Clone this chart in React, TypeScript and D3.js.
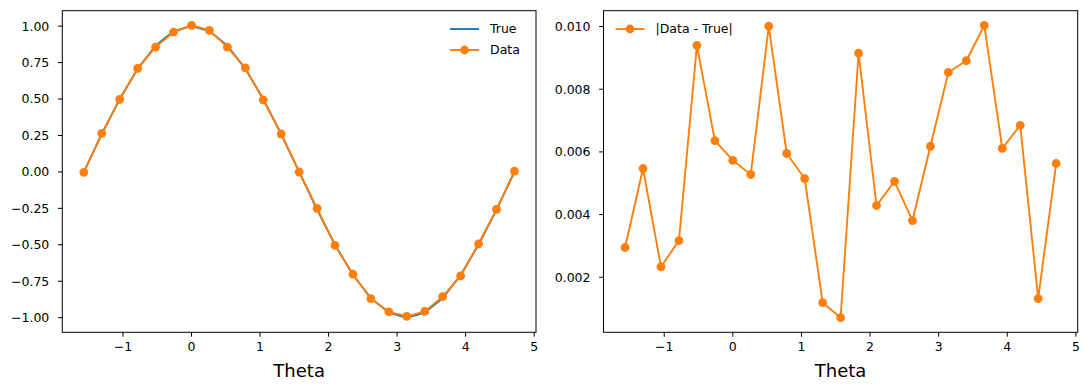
import * as d3 from 'd3';

// theta samples, -pi/2 .. 3pi/2 in pi/12 steps
const theta = [
  -1.5708, -1.309, -1.0472, -0.7854, -0.5236, -0.2618, 0, 0.2618, 0.5236, 0.7854, 1.0472, 1.309,
  1.5708, 1.8326, 2.0944, 2.3562, 2.618, 2.8798, 3.1416, 3.4034, 3.6652, 3.927, 4.1888, 4.4506, 4.7124,
];
const trueVals = [
  0, 0.2588, 0.5, 0.7071, 0.866, 0.9659, 1, 0.9659, 0.866, 0.7071, 0.5, 0.2588, 0, -0.2588, -0.5,
  -0.7071, -0.866, -0.9659, -1, -0.9659, -0.866, -0.7071, -0.5, -0.2588, 0,
];
const dataVals = [
  -0.003, 0.2643, 0.4977, 0.7103, 0.8566, 0.9595, 1.0057, 0.9712, 0.856, 0.7131, 0.4949, 0.26,
  -0.0007, -0.2497, -0.5043, -0.7021, -0.8698, -0.9597, -0.9915, -0.957, -0.856, -0.7132, -0.4932,
  -0.2575, 0.0056,
];
const absErr = [
  0.00295, 0.00547, 0.00233, 0.00317, 0.0094, 0.00636, 0.00573, 0.00528, 0.01001, 0.00595, 0.00515,
  0.00119, 0.00071, 0.00915, 0.00429, 0.00506, 0.00381, 0.00618, 0.00854, 0.00891, 0.01004, 0.00611,
  0.00685, 0.00132, 0.00563,
];
const xTicks = [-1, 0, 1, 2, 3, 4, 5];
const leftYTicks = [-1, -0.75, -0.5, -0.25, 0, 0.25, 0.5, 0.75, 1];
const rightYTicks = [0.002, 0.004, 0.006, 0.008, 0.01];

const BLUE = '#1f77b4';
const ORANGE = '#ff7f0e';
const FONT = 'DejaVu Sans, sans-serif';
const TOP = 10.7;
const BOTTOM = 332.3;
const R = 4.4;

const pad = (ext: [number, number]): [number, number] => {
  const m = (ext[1] - ext[0]) * 0.05;
  return [ext[0] - m, ext[1] + m];
};

const minus = (s: string) => s.replace('-', '\u2212');

type Series = { values: number[]; color: string; markers: boolean };

function Panel({
  x0,
  x1,
  yTicks,
  yFmt,
  yDomain,
  series,
  legend,
}: {
  x0: number;
  x1: number;
  yTicks: number[];
  yFmt: (v: number) => string;
  yDomain: [number, number];
  series: Series[];
  legend: { label: string; color: string; markers: boolean }[];
}) {
  const x = d3.scaleLinear().domain(pad(d3.extent(theta) as [number, number])).range([x0, x1]);
  const y = d3.scaleLinear().domain(yDomain).range([BOTTOM, TOP]);
  const line = d3
    .line<number>()
    .x((_, i) => x(theta[i]))
    .y((d) => y(d));
  const upperRight = legend.length > 1;
  const lx = upperRight ? x1 - 86 : x0 + 12;
  return (
    <g>
      {series.map((s, k) => (
        <g key={k}>
          <path d={line(s.values) ?? ''} fill="none" stroke={s.color} strokeWidth={1.9} />
          {s.markers &&
            s.values.map((v, i) => <circle key={i} cx={x(theta[i])} cy={y(v)} r={R} fill={s.color} />)}
        </g>
      ))}
      <rect x={x0} y={TOP} width={x1 - x0} height={BOTTOM - TOP} fill="none" stroke="#000" strokeWidth={1} />
      {xTicks.map((t) => (
        <g key={t} transform={`translate(${x(t)},${BOTTOM})`}>
          <line y2={4.4} stroke="#000" />
          <text y={19} textAnchor="middle" fontSize={12.5} fontFamily={FONT}>
            {minus(String(t))}
          </text>
        </g>
      ))}
      {yTicks.map((t) => (
        <g key={t} transform={`translate(${x0},${y(t)})`}>
          <line x2={-4.4} stroke="#000" />
          <text x={-13} dy="0.35em" textAnchor="end" fontSize={12.5} fontFamily={FONT}>
            {minus(yFmt(t))}
          </text>
        </g>
      ))}
      <text x={(x0 + x1) / 2} y={377} textAnchor="middle" fontSize={18} fontFamily={FONT}>
        Theta
      </text>
      {legend.map((l, i) => (
        <g key={l.label} transform={`translate(${lx},${29 + i * 21})`}>
          <line x1={0} x2={29} stroke={l.color} strokeWidth={1.9} />
          {l.markers && <circle cx={14.5} r={R} fill={l.color} />}
          <text x={40} dy="0.35em" fontSize={12.5} fontFamily={FONT}>
            {l.label}
          </text>
        </g>
      ))}
    </g>
  );
}

export default function App() {
  const leftY = pad(d3.extent([...trueVals, ...dataVals]) as [number, number]);
  const rightY = pad(d3.extent(absErr) as [number, number]);
  return (
    <svg width={1089} height={390} style={{ position: 'absolute', left: 0, top: 0 }}>
      <rect width={1089} height={390} fill="#fff" />
      <Panel
        x0={62.3}
        x1={536}
        yTicks={leftYTicks}
        yFmt={d3.format('.2f')}
        yDomain={leftY}
        series={[
          { values: trueVals, color: BLUE, markers: false },
          { values: dataVals, color: ORANGE, markers: true },
        ]}
        legend={[
          { label: 'True', color: BLUE, markers: false },
          { label: 'Data', color: ORANGE, markers: true },
        ]}
      />
      <Panel
        x0={603.5}
        x1={1077.7}
        yTicks={rightYTicks}
        yFmt={d3.format('.3f')}
        yDomain={rightY}
        series={[{ values: absErr, color: ORANGE, markers: true }]}
        legend={[{ label: '|Data - True|', color: ORANGE, markers: true }]}
      />
    </svg>
  );
}
